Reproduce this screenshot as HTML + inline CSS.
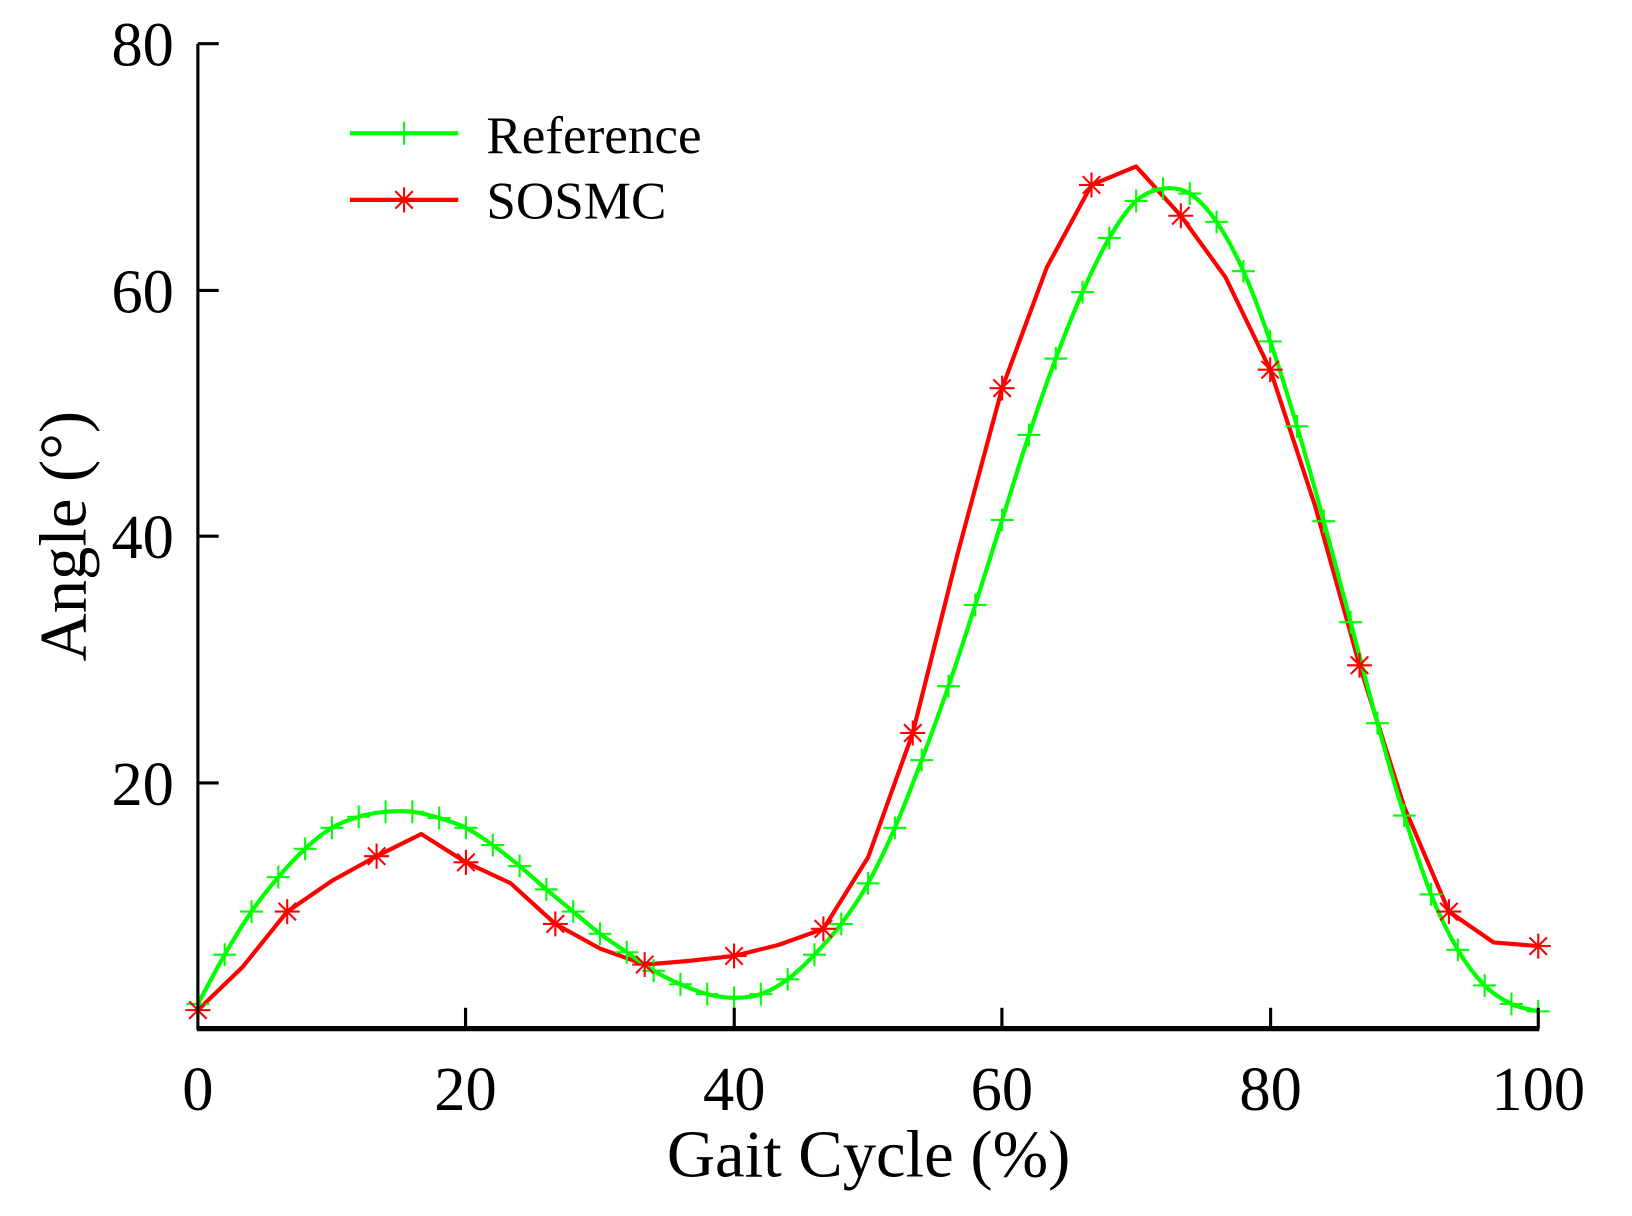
<!DOCTYPE html>
<html><head><meta charset="utf-8"><style>
html,body{margin:0;padding:0;background:#fff;}
svg{display:block;}
text{font-family:"Liberation Serif",serif;fill:#000;}
</style></head><body>
<svg id="s" width="1632" height="1216" viewBox="0 0 1567 1168" preserveAspectRatio="none" xmlns="http://www.w3.org/2000/svg">
<g id="plot"></g>
<line x1="190" y1="42" x2="190" y2="989" stroke="#000" stroke-width="3"/>
<line x1="189" y1="988" x2="1478" y2="988" stroke="#000" stroke-width="5"/>
<g stroke="#000" stroke-width="3">
<line x1="190" y1="42" x2="210" y2="42"/><line x1="190" y1="279" x2="210" y2="279"/>
<line x1="190" y1="515" x2="210" y2="515"/><line x1="190" y1="752" x2="210" y2="752"/>
<line x1="447" y1="988" x2="447" y2="968"/><line x1="705" y1="988" x2="705" y2="968"/>
<line x1="962" y1="988" x2="962" y2="968"/><line x1="1220" y1="988" x2="1220" y2="968"/>
<line x1="1477" y1="988" x2="1477" y2="968"/>
</g>
<g font-size="60" text-anchor="end">
<text x="167" y="63">80</text><text x="167" y="300">60</text><text x="167" y="536">40</text><text x="167" y="773">20</text>
</g>
<g font-size="60" text-anchor="middle">
<text x="190" y="1066">0</text><text x="447" y="1066">20</text><text x="705" y="1066">40</text>
<text x="962" y="1066">60</text><text x="1220" y="1066">80</text><text x="1477" y="1066">100</text>
</g>
<g font-size="64" text-anchor="middle">
<text x="834" y="1130">Gait Cycle (%)</text>
<text transform="translate(82,515) rotate(-90)">Angle (°)</text>
</g>
<g font-size="51">
<text x="467" y="147">Reference</text><text x="467" y="210">SOSMC</text>
</g>
<line x1="336" y1="128" x2="440" y2="128" stroke="#00ff00" stroke-width="4"/>
<line x1="336" y1="192" x2="440" y2="192" stroke="#ff0000" stroke-width="4"/>
<g id="leg"></g>
</svg>
<script>
var X=function(v){return 190+v*12.87;}, Y=function(v){return 988-v*11.83;};
var g=[2,6,9.5,12.3,14.6,16.3,17.2,17.6,17.6,17.1,16.3,14.9,13.2,11.3,9.5,7.7,6.2,4.7,3.6,2.8,2.5,2.8,4,6,8.5,11.8,16.3,21.8,27.8,34.4,41.3,48.2,54.4,59.8,64.2,67.2,68.2,67.8,65.5,61.5,55.8,48.9,41.2,33,24.8,17.3,10.9,6.4,3.5,2,1.4];
var r=[1.5,5,9.5,12,14,15.8,13.5,11.8,8.5,6.5,5.2,5.5,5.9,6.8,8.1,13.9,24,38.5,52,61.8,68.5,70,66,61,53.5,42.5,29.5,18,9.5,7,6.7];
var ns="http://www.w3.org/2000/svg",P=document.getElementById("plot"),L=document.getElementById("leg");
function el(p,t,a){var e=document.createElementNS(ns,t);for(var k in a)e.setAttribute(k,a[k]);p.appendChild(e);return e;}
var pts=g.map(function(v,i){return [X(i*2),Y(v)];});
var d="M"+pts[0];
for(var i=0;i<pts.length-1;i++){var p0=pts[Math.max(0,i-1)],p1=pts[i],p2=pts[i+1],p3=pts[Math.min(pts.length-1,i+2)];
d+=" C"+(p1[0]+(p2[0]-p0[0])/6)+","+(p1[1]+(p2[1]-p0[1])/6)+" "+(p2[0]-(p3[0]-p1[0])/6)+","+(p2[1]-(p3[1]-p1[1])/6)+" "+p2[0]+","+p2[1];}
var rp=r.map(function(v,i){return X(i*10/3)+","+Y(v);}).join(" ");
el(P,"polyline",{points:rp,fill:"none",stroke:"#ff0000","stroke-width":4,"stroke-linejoin":"round"});
el(P,"path",{d:d,fill:"none",stroke:"#00ff00","stroke-width":4});
function plus(p,x,y){el(p,"path",{d:"M"+(x-11)+","+y+"h22M"+x+","+(y-11)+"v22",stroke:"#00ff00","stroke-width":2});}
function star(p,x,y){var s=12,t=s*0.7;el(p,"path",{d:"M"+(x-s)+","+y+"h"+(2*s)+"M"+x+","+(y-s)+"v"+(2*s)+"M"+(x-t)+","+(y-t)+"l"+(2*t)+","+(2*t)+"M"+(x-t)+","+(y+t)+"l"+(2*t)+","+(-2*t),stroke:"#ff0000","stroke-width":2});}
pts.forEach(function(p){plus(P,p[0],p[1]);});
for(var i=0;i<r.length;i+=2)star(P,X(i*10/3),Y(r[i]));
plus(L,388,128);star(L,388,192);
</script>
</body></html>
